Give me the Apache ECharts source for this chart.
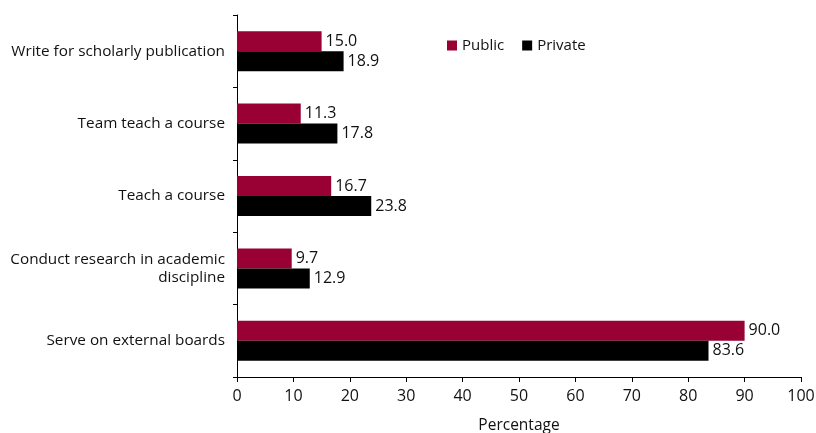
<!DOCTYPE html>
<html>
<head>
<meta charset="utf-8">
<script src="https://cdn.jsdelivr.net/npm/echarts@6/dist/echarts.min.js"></script>
<style>
  html, body { margin: 0; padding: 0; background: #fff; }
  #chart { width: 816px; height: 433px; }
</style>
</head>
<body>
<div id="chart"></div>
<script>
// Activities, listed bottom to top as the category axis draws them
const categories = [
  'Serve on external boards',
  'Conduct research in academic\ndiscipline',
  'Teach a course',
  'Team teach a course',
  'Write for scholarly publication'
];
const publicValues = [90.0, 9.7, 16.7, 11.3, 15.0];
const privateValues = [83.6, 12.9, 23.8, 17.8, 18.9];
const xTicks = { min: 0, max: 100, interval: 10 };

const FONT = '"Open Sans", "Noto Sans", sans-serif';
const chart = echarts.init(document.getElementById('chart'), null, { renderer: 'canvas' });

const valueLabel = {
  show: true,
  position: 'right',
  distance: 4,
  color: '#111',
  fontFamily: FONT,
  fontSize: 16,
  formatter: p => p.value.toFixed(1)
};

chart.setOption({
  animation: false,
  textStyle: { fontFamily: FONT },
  legend: {
    top: 33,
    left: 442,
    itemWidth: 10,
    itemHeight: 10,
    itemGap: 18,
    icon: 'rect',
    textStyle: { fontFamily: FONT, fontSize: 15, color: '#111' },
    data: ['Public', 'Private']
  },
  grid: {
    left: 237, right: 15, top: 15, bottom: 56,
    containLabel: false,
    outerBoundsMode: 'none'
  },
  xAxis: {
    type: 'value',
    min: xTicks.min,
    max: xTicks.max,
    interval: xTicks.interval,
    name: 'Percentage',
    nameLocation: 'middle',
    nameGap: 41,
    nameTextStyle: { fontFamily: FONT, fontSize: 15.5, color: '#111' },
    axisLine: { show: true, lineStyle: { color: '#000', width: 1 } },
    axisTick: { show: true, length: 5, lineStyle: { color: '#000' } },
    axisLabel: { fontFamily: FONT, fontSize: 16, color: '#111', margin: 11 },
    splitLine: { show: false }
  },
  yAxis: {
    type: 'category',
    data: categories,
    axisLine: { show: true, lineStyle: { color: '#000', width: 1 } },
    axisTick: { show: true, length: 4, lineStyle: { color: '#000' } },
    axisLabel: {
      fontFamily: FONT,
      fontSize: 15.3,
      color: '#111',
      margin: 12,
      lineHeight: 18,
      align: 'right'
    }
  },
  series: [
    {
      name: 'Public',
      type: 'bar',
      data: publicValues,
      barWidth: 20,
      barGap: '0%',
      itemStyle: { color: '#990033' },
      label: valueLabel
    },
    {
      name: 'Private',
      type: 'bar',
      data: privateValues,
      barWidth: 20,
      barGap: '0%',
      itemStyle: { color: '#000000' },
      label: valueLabel
    }
  ]
});
</script>
</body>
</html>
